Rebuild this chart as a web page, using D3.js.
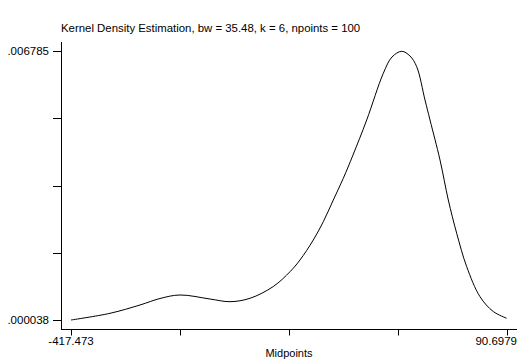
<!DOCTYPE html>
<html>
<head>
<meta charset="utf-8">
<script src="https://cdnjs.cloudflare.com/ajax/libs/d3/7.8.5/d3.min.js"></script>
<style>
  body { margin: 0; background: #fff; }
  svg { display: block; font-family: "Liberation Sans", Arial, sans-serif; }
</style>
</head>
<body>
<svg id="chart" width="519" height="363"></svg>
<script>
// kernel density estimate
const midpoints = [-417.473, -371.99, -336.99, -313.67, -290.34, -255.35, -232.02, -208.70,
  -181.52, -162.04, -150.38, -134.87, -123.21, -111.54, -99.88, -88.57, -72.59, -53.22,
  -43.08, -31.76, -22.08, -14.27, -4.59, 1.24, 12.91, 22.59, 32.38, 44.05, 59.56, 75.07, 90.6979];
const density = [.000038, .000206, .000415, .000578, .000666, .000565, .000498, .000583,
  .000879, .001251, .001545, .002047, .002506, .003051, .003596, .004181, .005060, .006233,
  .006642, .006785, .006667, .006398, .005562, .005060, .004056, .003051, .002215, .001376,
  .000623, .000251, .000081];

const xMin = -417.473, xMax = 90.6979;
const yMin = .000038, yMax = .006785;
const xTickLabels = ['-417.473', '', '', '', '90.6979'];
const yTickLabels = ['.000038', '', '', '', '.006785'];
const titleText = 'Kernel Density Estimation, bw = 35.48, k = 6, npoints = 100';
const xTitle = 'Midpoints';

const svg = d3.select('#chart');
const axisX0 = 61, axisY0 = 329.5;

const x = d3.scaleLinear().domain([xMin, xMax]).range([71, 506.7]);
const y = d3.scaleLinear().domain([yMin, yMax]).range([320, 51.3]);

const xTicks = d3.range(5).map(i => xMin + i * (xMax - xMin) / 4);
const yTicks = d3.range(5).map(i => yMin + i * (yMax - yMin) / 4);

// axis lines
svg.append('line')
  .attr('x1', axisX0 + 0.5).attr('x2', axisX0 + 0.5)
  .attr('y1', 42).attr('y2', axisY0)
  .attr('stroke', '#000');
svg.append('line')
  .attr('x1', axisX0).attr('x2', 517)
  .attr('y1', axisY0).attr('y2', axisY0)
  .attr('stroke', '#000');

// y ticks
svg.selectAll('.ytick')
  .data(yTicks)
  .enter().append('line')
  .attr('class', 'ytick')
  .attr('x1', 53).attr('x2', axisX0)
  .attr('y1', d => Math.round(y(d)) + 0.5)
  .attr('y2', d => Math.round(y(d)) + 0.5)
  .attr('stroke', '#000');

svg.selectAll('.ylab')
  .data(yTicks)
  .enter().append('text')
  .attr('class', 'ylab')
  .attr('x', 49)
  .attr('y', d => y(d) + 4)
  .attr('text-anchor', 'end')
  .attr('font-size', 11.5)
  .text((d, i) => yTickLabels[i]);

// x ticks
svg.selectAll('.xtick')
  .data(xTicks)
  .enter().append('line')
  .attr('class', 'xtick')
  .attr('x1', d => Math.round(x(d)) + 0.5)
  .attr('x2', d => Math.round(x(d)) + 0.5)
  .attr('y1', axisY0).attr('y2', axisY0 + 6)
  .attr('stroke', '#000');

svg.selectAll('.xlab')
  .data(xTicks)
  .enter().append('text')
  .attr('class', 'xlab')
  .attr('x', (d, i) => i === 4 ? 517 : x(d))
  .attr('y', 345)
  .attr('text-anchor', (d, i) => i === 4 ? 'end' : 'middle')
  .attr('font-size', 11.5)
  .text((d, i) => xTickLabels[i]);

svg.append('text')
  .attr('x', 289).attr('y', 357)
  .attr('text-anchor', 'middle')
  .attr('font-size', 11)
  .text(xTitle);

svg.append('text')
  .attr('x', 61).attr('y', 32)
  .attr('font-size', 11.4)
  .text(titleText);

// density curve
const line = d3.line()
  .x((d, i) => x(midpoints[i]))
  .y(d => y(d))
  .curve(d3.curveCatmullRom.alpha(0.5));

svg.append('path')
  .datum(density)
  .attr('fill', 'none')
  .attr('stroke', '#000')
  .attr('stroke-width', 1)
  .attr('d', line);
</script>
</body>
</html>
